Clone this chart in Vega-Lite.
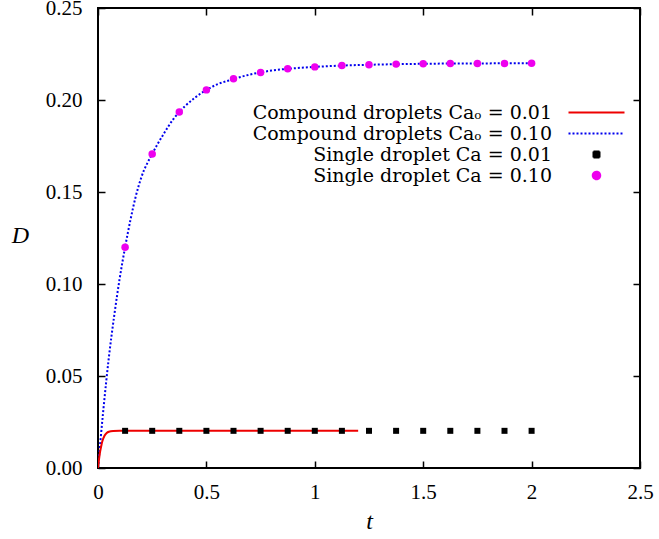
{
  "$schema": "https://vega.github.io/schema/vega-lite/v6.json",
  "width": 542,
  "height": 460,
  "autosize": {"type": "none"},
  "padding": {"left": 98, "top": 8, "right": 19, "bottom": 71},
  "background": "white",
  "config": {
    "view": {"stroke": "black", "strokeWidth": 2},
    "font": "Liberation Serif",
    "axis": {
      "domain": false,
      "grid": false,
      "tickColor": "black",
      "tickWidth": 1.5,
      "tickSize": -7,
      "labelFlush": false,
      "labelFont": "Liberation Serif",
      "labelFontSize": 21,
      "labelColor": "black",
      "titleFont": "Liberation Serif",
      "titleFontStyle": "italic",
      "titleFontWeight": "normal",
      "titleFontSize": 24,
      "titleColor": "black"
    },
    "legend": {
      "labelFont": "DejaVu Serif",
      "labelFontSize": 19,
      "labelColor": "black",
      "labelLimit": 400
    }
  },
  "datasets": {
    "curves": [
      {"series": "Compound droplets Caₒ = 0.10", "t": 0, "D": 0},
      {"series": "Compound droplets Caₒ = 0.10", "t": 0.025, "D": 0.032},
      {"series": "Compound droplets Caₒ = 0.10", "t": 0.05, "D": 0.06},
      {"series": "Compound droplets Caₒ = 0.10", "t": 0.075, "D": 0.083},
      {"series": "Compound droplets Caₒ = 0.10", "t": 0.1, "D": 0.103},
      {"series": "Compound droplets Caₒ = 0.10", "t": 0.125, "D": 0.12},
      {"series": "Compound droplets Caₒ = 0.10", "t": 0.15, "D": 0.135},
      {"series": "Compound droplets Caₒ = 0.10", "t": 0.175, "D": 0.148},
      {"series": "Compound droplets Caₒ = 0.10", "t": 0.2, "D": 0.158},
      {"series": "Compound droplets Caₒ = 0.10", "t": 0.25, "D": 0.1707},
      {"series": "Compound droplets Caₒ = 0.10", "t": 0.3, "D": 0.181},
      {"series": "Compound droplets Caₒ = 0.10", "t": 0.35, "D": 0.19},
      {"series": "Compound droplets Caₒ = 0.10", "t": 0.4, "D": 0.1965},
      {"series": "Compound droplets Caₒ = 0.10", "t": 0.45, "D": 0.2015},
      {"series": "Compound droplets Caₒ = 0.10", "t": 0.5, "D": 0.2055},
      {"series": "Compound droplets Caₒ = 0.10", "t": 0.55, "D": 0.2085},
      {"series": "Compound droplets Caₒ = 0.10", "t": 0.6, "D": 0.2105},
      {"series": "Compound droplets Caₒ = 0.10", "t": 0.7, "D": 0.2138},
      {"series": "Compound droplets Caₒ = 0.10", "t": 0.8, "D": 0.216},
      {"series": "Compound droplets Caₒ = 0.10", "t": 0.9, "D": 0.2172},
      {"series": "Compound droplets Caₒ = 0.10", "t": 1.0, "D": 0.218},
      {"series": "Compound droplets Caₒ = 0.10", "t": 1.1, "D": 0.2186},
      {"series": "Compound droplets Caₒ = 0.10", "t": 1.2, "D": 0.219},
      {"series": "Compound droplets Caₒ = 0.10", "t": 1.4, "D": 0.2195},
      {"series": "Compound droplets Caₒ = 0.10", "t": 1.6, "D": 0.2198},
      {"series": "Compound droplets Caₒ = 0.10", "t": 1.8, "D": 0.2199},
      {"series": "Compound droplets Caₒ = 0.10", "t": 2.0, "D": 0.22},
      {"series": "Compound droplets Caₒ = 0.01", "t": 0, "D": 0},
      {"series": "Compound droplets Caₒ = 0.01", "t": 0.005, "D": 0.005},
      {"series": "Compound droplets Caₒ = 0.01", "t": 0.01, "D": 0.009},
      {"series": "Compound droplets Caₒ = 0.01", "t": 0.015, "D": 0.012},
      {"series": "Compound droplets Caₒ = 0.01", "t": 0.02, "D": 0.0145},
      {"series": "Compound droplets Caₒ = 0.01", "t": 0.03, "D": 0.0175},
      {"series": "Compound droplets Caₒ = 0.01", "t": 0.04, "D": 0.019},
      {"series": "Compound droplets Caₒ = 0.01", "t": 0.05, "D": 0.0197},
      {"series": "Compound droplets Caₒ = 0.01", "t": 0.07, "D": 0.0201},
      {"series": "Compound droplets Caₒ = 0.01", "t": 0.1, "D": 0.0202},
      {"series": "Compound droplets Caₒ = 0.01", "t": 1.2, "D": 0.0202}
    ],
    "points": [
      {"series": "Single droplet Ca = 0.01", "t": 0.125, "D": 0.0202},
      {"series": "Single droplet Ca = 0.01", "t": 0.25, "D": 0.0202},
      {"series": "Single droplet Ca = 0.01", "t": 0.375, "D": 0.0202},
      {"series": "Single droplet Ca = 0.01", "t": 0.5, "D": 0.0202},
      {"series": "Single droplet Ca = 0.01", "t": 0.625, "D": 0.0202},
      {"series": "Single droplet Ca = 0.01", "t": 0.75, "D": 0.0202},
      {"series": "Single droplet Ca = 0.01", "t": 0.875, "D": 0.0202},
      {"series": "Single droplet Ca = 0.01", "t": 1.0, "D": 0.0202},
      {"series": "Single droplet Ca = 0.01", "t": 1.125, "D": 0.0202},
      {"series": "Single droplet Ca = 0.01", "t": 1.25, "D": 0.0202},
      {"series": "Single droplet Ca = 0.01", "t": 1.375, "D": 0.0202},
      {"series": "Single droplet Ca = 0.01", "t": 1.5, "D": 0.0202},
      {"series": "Single droplet Ca = 0.01", "t": 1.625, "D": 0.0202},
      {"series": "Single droplet Ca = 0.01", "t": 1.75, "D": 0.0202},
      {"series": "Single droplet Ca = 0.01", "t": 1.875, "D": 0.0202},
      {"series": "Single droplet Ca = 0.01", "t": 2.0, "D": 0.0202},
      {"series": "Single droplet Ca = 0.10", "t": 0.125, "D": 0.12},
      {"series": "Single droplet Ca = 0.10", "t": 0.25, "D": 0.1707},
      {"series": "Single droplet Ca = 0.10", "t": 0.375, "D": 0.1935},
      {"series": "Single droplet Ca = 0.10", "t": 0.5, "D": 0.2055},
      {"series": "Single droplet Ca = 0.10", "t": 0.625, "D": 0.2115},
      {"series": "Single droplet Ca = 0.10", "t": 0.75, "D": 0.215},
      {"series": "Single droplet Ca = 0.10", "t": 0.875, "D": 0.217},
      {"series": "Single droplet Ca = 0.10", "t": 1.0, "D": 0.218},
      {"series": "Single droplet Ca = 0.10", "t": 1.125, "D": 0.2188},
      {"series": "Single droplet Ca = 0.10", "t": 1.25, "D": 0.2192},
      {"series": "Single droplet Ca = 0.10", "t": 1.375, "D": 0.2195},
      {"series": "Single droplet Ca = 0.10", "t": 1.5, "D": 0.2197},
      {"series": "Single droplet Ca = 0.10", "t": 1.625, "D": 0.2198},
      {"series": "Single droplet Ca = 0.10", "t": 1.75, "D": 0.2199},
      {"series": "Single droplet Ca = 0.10", "t": 1.875, "D": 0.2199},
      {"series": "Single droplet Ca = 0.10", "t": 2.0, "D": 0.22}
    ]
  },
  "resolve": {"axis": {"x": "independent", "y": "independent"}},
  "layer": [
    {
      "data": {"name": "curves"},
      "transform": [{"filter": "datum.series === 'Compound droplets Caₒ = 0.10'"}],
      "mark": {"type": "line", "strokeWidth": 2, "strokeDash": [2, 2], "interpolate": "monotone", "clip": true},
      "encoding": {
        "x": {"field": "t", "type": "quantitative", "scale": {"domain": [0, 2.5], "nice": false},
          "axis": {"orient": "bottom", "values": [0, 0.5, 1, 1.5, 2, 2.5], "format": "~g", "labelPadding": 20, "title": "t", "titleBaseline": "alphabetic", "titleY": 60}},
        "y": {"field": "D", "type": "quantitative", "scale": {"domain": [0, 0.25], "nice": false, "zero": true},
          "axis": {"orient": "left", "values": [0, 0.05, 0.1, 0.15, 0.2, 0.25], "format": ".2f", "labelPadding": 23, "title": "D", "titleAngle": 0, "titleX": -78, "titleY": 227, "titleAlign": "center", "titleBaseline": "middle"}},
        "color": {"field": "series", "type": "nominal",
          "scale": {"domain": ["Compound droplets Caₒ = 0.01", "Compound droplets Caₒ = 0.10", "Single droplet Ca = 0.01", "Single droplet Ca = 0.10"], "range": ["#ee0000", "#0000ee", "#000000", "#ee00ee"]},
          "legend": {
            "title": null,
            "orient": "none",
            "legendX": 442,
            "legendY": 95,
            "padding": 0,
            "rowPadding": 1,
            "symbolSize": 64,
            "labelAlign": "right",
            "labelOffset": -54,
            "symbolOffset": 47,
            "encode": {
              "symbols": {
                "update": {
                  "shape": {"signal": "datum.value === 'Single droplet Ca = 0.01' ? 'square' : datum.value === 'Single droplet Ca = 0.10' ? 'circle' : 'M-7,0H7'"},
                  "size": {"signal": "datum.value === 'Single droplet Ca = 0.01' ? 36 : datum.value === 'Single droplet Ca = 0.10' ? 56 : 64"},
                  "fill": {"signal": "datum.value === 'Single droplet Ca = 0.01' ? '#000000' : datum.value === 'Single droplet Ca = 0.10' ? '#ee00ee' : 'transparent'"},
                  "stroke": {"signal": "datum.value === 'Compound droplets Caₒ = 0.01' ? '#ee0000' : datum.value === 'Compound droplets Caₒ = 0.10' ? '#0000ee' : 'transparent'"},
                  "strokeWidth": {"value": 2},
                  "strokeDash": {"signal": "datum.value === 'Compound droplets Caₒ = 0.10' ? [2, 2] : [1, 0]"},
                  "opacity": {"value": 1}
                }
              }
            }
          }}
      }
    },
    {
      "data": {"name": "curves"},
      "transform": [{"filter": "datum.series === 'Compound droplets Caₒ = 0.01'"}],
      "mark": {"type": "line", "strokeWidth": 2, "interpolate": "monotone", "clip": true},
      "encoding": {
        "x": {"field": "t", "type": "quantitative", "axis": {"orient": "top", "values": [0, 0.5, 1, 1.5, 2, 2.5], "labels": false, "title": null}},
        "y": {"field": "D", "type": "quantitative", "axis": {"orient": "right", "values": [0, 0.05, 0.1, 0.15, 0.2, 0.25], "labels": false, "title": null}},
        "color": {"field": "series", "type": "nominal"}
      }
    },
    {
      "data": {"name": "points"},
      "transform": [{"filter": "datum.series === 'Single droplet Ca = 0.01'"}],
      "mark": {"type": "point", "shape": "square", "filled": true, "size": 36, "opacity": 1},
      "encoding": {
        "x": {"field": "t", "type": "quantitative", "axis": null},
        "y": {"field": "D", "type": "quantitative", "axis": null},
        "color": {"field": "series", "type": "nominal"}
      }
    },
    {
      "data": {"name": "points"},
      "transform": [{"filter": "datum.series === 'Single droplet Ca = 0.10'"}],
      "mark": {"type": "point", "shape": "circle", "filled": true, "size": 56, "opacity": 1},
      "encoding": {
        "x": {"field": "t", "type": "quantitative", "axis": null},
        "y": {"field": "D", "type": "quantitative", "axis": null},
        "color": {"field": "series", "type": "nominal"}
      }
    }
  ]
}
